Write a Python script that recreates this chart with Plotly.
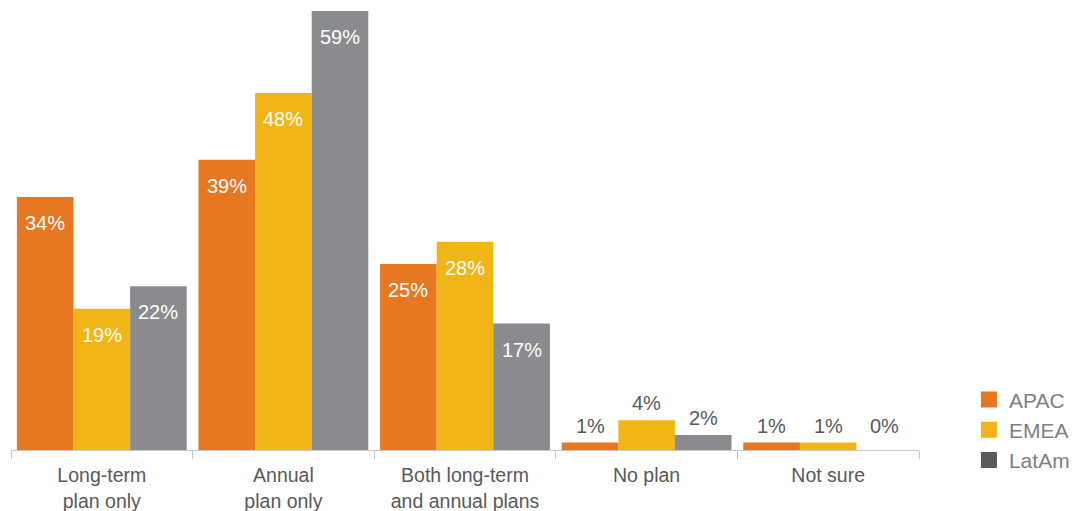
import plotly.graph_objects as go

categories = ["Long-term<br>plan only", "Annual<br>plan only", "Both long-term<br>and annual plans", "No plan", "Not sure"]
series_names = ["APAC", "EMEA", "LatAm"]
apac = [34, 39, 25, 1, 1]
emea = [19, 48, 28, 4, 1]
latam = [22, 59, 17, 2, 0]
values = [apac, emea, latam]
bar_colors = ["#E87722", "#F2B517", "#898B8E"]
legend_colors = ["#E87722", "#F2B517", "#58595B"]

FONT = "Liberation Sans, Arial, sans-serif"
bargap = 0.065
W, H = 1072, 511
ml, mr, mt, mb = 11, 153, 0, 61
px_per_unit = 7.44
ymax = (H - mt - mb) / px_per_unit

fig = go.Figure()
for name, vals, col in zip(series_names, values, bar_colors):
    fig.add_trace(go.Bar(x=categories, y=vals, name=name, marker_color=col,
                         marker_line_width=0, showlegend=False, hoverinfo="skip"))
for name, col in zip(series_names, legend_colors):
    fig.add_trace(go.Scatter(x=[None], y=[None], mode="markers", name=name,
                             marker=dict(symbol="square", size=19, color=col)))

# data labels
bw = (1 - bargap) / 3
annotations = []
for si, vals in enumerate(values):
    for ci, v in enumerate(vals):
        xpos = ci + (si - 1) * bw
        if v >= 10:
            annotations.append(dict(x=xpos, y=v, xref="x", yref="y", text=f"{v}%",
                                    showarrow=False, yanchor="middle", yshift=-26,
                                    font=dict(family=FONT, size=20, color="#FFFFFF")))
        else:
            annotations.append(dict(x=xpos, y=max(v, 1), xref="x", yref="y", text=f"{v}%",
                                    showarrow=False, yanchor="middle", yshift=17,
                                    font=dict(family=FONT, size=20, color="#595959")))

fig.update_layout(
    width=W, height=H,
    margin=dict(l=ml, r=mr, t=mt, b=mb, autoexpand=False),
    barmode="group", bargap=bargap, bargroupgap=0,
    plot_bgcolor="white", paper_bgcolor="white",
    font=dict(family=FONT, size=19, color="#595959"),
    annotations=annotations,
    legend=dict(x=1.055, xanchor="left", y=0.157, yanchor="top",
                font=dict(family=FONT, size=21, color="#7F7F7F"),
                itemwidth=30, tracegroupgap=0, bgcolor="rgba(0,0,0,0)"),
    xaxis=dict(tickson="boundaries", ticks="outside", ticklen=8, tickcolor="#C8C8C8",
               showline=True, linecolor="#C8C8C8", linewidth=1, showgrid=False,
               ticklabelstandoff=8,
               tickfont=dict(family=FONT, size=19.5, color="#595959")),
    yaxis=dict(range=[0, ymax], visible=False, showgrid=False, zeroline=False),
)

fig.write_html("out.html", config={"displayModeBar": False},
               post_script="document.body.style.margin='0';")
